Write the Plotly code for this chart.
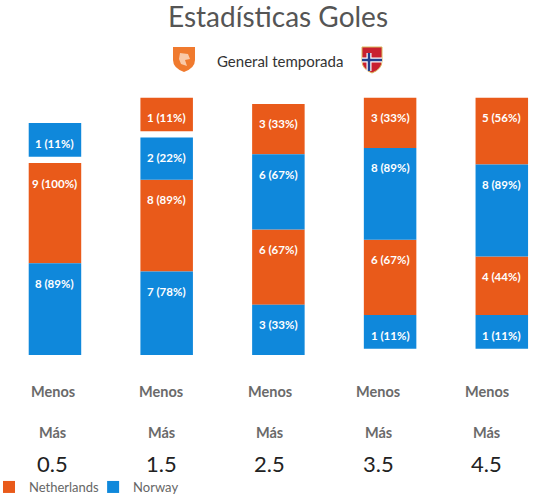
import plotly.graph_objects as go

# goal lines and the match counts (9 games per team)
thresholds = ["0.5", "1.5", "2.5", "3.5", "4.5"]
games = 9
ned_mas = [9, 8, 6, 6, 4]
ned_menos = [0, 1, 3, 3, 5]
nor_mas = [8, 7, 3, 1, 1]
nor_menos = [1, 2, 6, 8, 8]

ORANGE = "#E95A1A"
BLUE = "#0F88DB"
FONT = "Lato"

# every segment gets a bit of extra length, tiny ones get a minimum slot
PAD = 34
MIN_SLOT = 53.5

bars = {"Netherlands": dict(x=[], base=[], y=[]), "Norway": dict(x=[], base=[], y=[])}
labels = []
for i in range(len(thresholds)):
    stack = [("Norway", nor_mas[i]), ("Netherlands", ned_mas[i]),
             ("Norway", nor_menos[i]), ("Netherlands", ned_menos[i])]
    cum = 0
    for team, n in stack:
        if n == 0:
            continue
        length = n / games * 100 + PAD
        slot = max(length, MIN_SLOT)
        base = cum + slot - length
        bars[team]["x"].append(i)
        bars[team]["base"].append(base)
        bars[team]["y"].append(length)
        labels.append((i, base + length, f"{n} ({round(n / games * 100)}%)"))
        cum += slot

fig = go.Figure()
for team, col in [("Netherlands", ORANGE), ("Norway", BLUE)]:
    fig.add_trace(go.Bar(x=bars[team]["x"], y=bars[team]["y"], base=bars[team]["base"],
                         name=team, marker=dict(color=col, line=dict(width=0)),
                         width=0.47, hoverinfo="skip"))

for i, top, txt in labels:
    fig.add_annotation(x=i, y=top, text=txt, showarrow=False, yshift=-20, yanchor="middle",
                       font=dict(family=FONT, size=11.5, color="white", weight="bold"))

# category labels under each column
for i, t in enumerate(thresholds):
    dx = -2 - 3.3 * i
    fig.add_annotation(x=i, y=0, yref="paper", text="Menos", showarrow=False,
                       xshift=dx, yshift=-36, yanchor="middle",
                       font=dict(family=FONT, size=14.5, color="#6a6a6a", weight="bold"))
    fig.add_annotation(x=i, y=0, yref="paper", text="Más", showarrow=False,
                       xshift=dx, yshift=-77, yanchor="middle",
                       font=dict(family=FONT, size=14.5, color="#6a6a6a", weight="bold"))
    fig.add_annotation(x=i, y=0, yref="paper", text=t, showarrow=False,
                       xshift=dx, yshift=-108, yanchor="middle",
                       font=dict(family=FONT, size=22, color="#222222"))

fig.add_annotation(x=280 / 538, xref="paper", y=1, yref="paper", yshift=19, yanchor="middle",
                   text="General temporada", showarrow=False,
                   font=dict(family=FONT, size=15, color="#333333"))

# crests, drawn as simple shields
ny = (355 - 47) / 275
fig.add_shape(type="path", xref="paper", yref="paper", xsizemode="pixel", ysizemode="pixel",
              xanchor=184 / 538, yanchor=ny,
              path="M -11,0 L 11,0 L 11,-13 Q 11,-21 0,-25 Q -11,-21 -11,-13 Z",
              fillcolor="#F07A2E", line=dict(width=0))
fig.add_shape(type="path", xref="paper", yref="paper", xsizemode="pixel", ysizemode="pixel",
              xanchor=184 / 538, yanchor=ny,
              path="M -4,-6 L 4,-7 L 6,-12 L 1,-13 L 3,-19 L -3,-17 L -5,-12 Z",
              fillcolor="#F9C9A8", line=dict(width=0))
fig.add_shape(type="path", xref="paper", yref="paper", xsizemode="pixel", ysizemode="pixel",
              xanchor=372 / 538, yanchor=ny,
              path="M -10,0 L 10,0 L 10,-14 Q 10,-22 0,-26 Q -10,-22 -10,-14 Z",
              fillcolor="#C8202F", line=dict(color="#D9B85C", width=1))
fig.add_shape(type="path", xref="paper", yref="paper", xsizemode="pixel", ysizemode="pixel",
              xanchor=372 / 538, yanchor=ny,
              path="M -10,-13 L 10,-13 M -3,-6 L -3,-24", line=dict(color="white", width=5))
fig.add_shape(type="path", xref="paper", yref="paper", xsizemode="pixel", ysizemode="pixel",
              xanchor=372 / 538, yanchor=ny,
              path="M -10,-13 L 10,-13 M -3,-6 L -3,-24", line=dict(color="#233F8C", width=2.5))

fig.update_layout(
    width=538, height=500,
    margin=dict(l=0, r=0, t=80, b=145),
    paper_bgcolor="white", plot_bgcolor="white",
    title=dict(text="Estadísticas Goles", x=278 / 538, xanchor="center",
               y=0.965, yanchor="middle",
               font=dict(family=FONT, size=28, color="#555555")),
    barmode="overlay",
    xaxis=dict(range=[-0.492, 4.324], visible=False, fixedrange=True),
    yaxis=dict(range=[0, 368], visible=False, fixedrange=True),
    showlegend=True,
    legend=dict(orientation="h", xref="container", x=0, xanchor="left", indentation=-11,
                yref="container", y=13 / 500, yanchor="middle",
                font=dict(family=FONT, size=13, color="#666666"), traceorder="normal"),
)

# drop the page's default body margin so the chart sits at the window corner
fig.write_html("out.html", config={"displayModeBar": False},
               post_script="document.body.style.margin='0';")
